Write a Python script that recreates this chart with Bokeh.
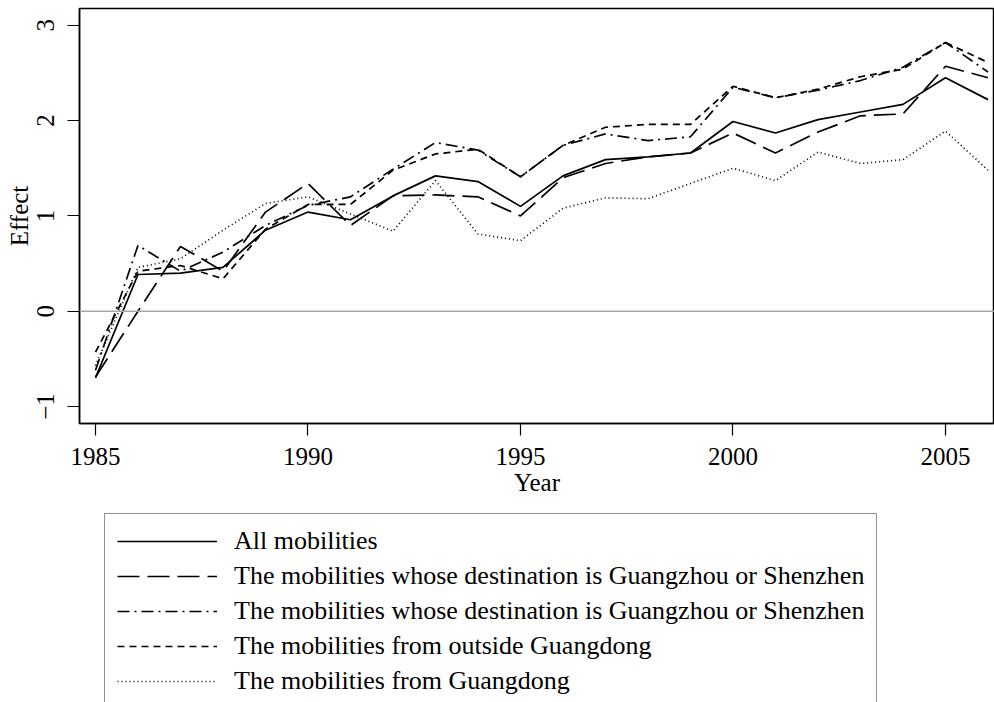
from bokeh.plotting import figure
from bokeh.models import Legend, LegendItem, Span, FixedTicker, Range1d
from bokeh.layouts import column
from bokeh.embed import file_html
from bokeh.resources import INLINE

years = list(range(1985, 2007))
all_mob = [-0.70, 0.385, 0.40, 0.46, 0.85, 1.04, 0.96, 1.21, 1.42, 1.36, 1.10,
           1.42, 1.59, 1.62, 1.66, 1.99, 1.87, 2.01, 2.09, 2.17, 2.45, 2.22]
gz_sz_a = [-0.69, 0.00, 0.68, 0.42, 1.04, 1.34, 0.90, 1.21, 1.22, 1.20, 1.00,
           1.40, 1.55, 1.62, 1.66, 1.87, 1.66, 1.88, 2.05, 2.07, 2.57, 2.45]
gz_sz_b = [-0.62, 0.69, 0.42, 0.62, 0.90, 1.11, 1.20, 1.49, 1.77, 1.69, 1.41,
           1.74, 1.86, 1.79, 1.83, 2.35, 2.24, 2.32, 2.42, 2.56, 2.82, 2.51]
outside_gd = [-0.43, 0.42, 0.48, 0.34, 0.86, 1.12, 1.12, 1.48, 1.65, 1.70, 1.41,
              1.74, 1.93, 1.96, 1.96, 2.36, 2.24, 2.33, 2.46, 2.54, 2.82, 2.61]
from_gd = [-0.57, 0.46, 0.55, 0.85, 1.13, 1.20, 1.02, 0.84, 1.37, 0.81, 0.74,
           1.08, 1.19, 1.18, 1.34, 1.50, 1.37, 1.67, 1.55, 1.59, 1.89, 1.48]

labels = ["All mobilities",
          "The mobilities whose destination is Guangzhou or Shenzhen",
          "The mobilities whose destination is Guangzhou or Shenzhen",
          "The mobilities from outside Guangdong",
          "The mobilities from Guangdong"]
x_ticks = [1985, 1990, 1995, 2000, 2005]
y_ticks = [-1, 0, 1, 2, 3]

FONT = "Liberation Serif"
FS = "25px"
LFS = "26px"

series = [all_mob, gz_sz_a, gz_sz_b, outside_gd, from_gd]
dashes = ["solid", "22 8", "12 5 2 5", "7 5", "1 3"]

# ---- main plot ----
p = figure(width=994, height=513, output_backend="svg", toolbar_location=None,
           x_range=Range1d(1984.624, 2006.153), y_range=Range1d(-1.178, 3.176),
           min_border_left=79, min_border_right=0, min_border_top=8,
           min_border_bottom=90, background_fill_color="white",
           border_fill_color="white")
p.grid.visible = False
p.outline_line_color = "black"
p.outline_line_width = 1.5

p.add_layout(Span(location=0, dimension="width", line_color="#a8a8a8", line_width=1.5))

for s, d in zip(series, dashes):
    p.line(years, s, line_color="black", line_width=1.7, line_dash=d)

for ax in (p.xaxis, p.yaxis):
    ax.axis_line_color = "black"
    ax.axis_line_width = 1.5
    ax.major_tick_line_color = "black"
    ax.major_tick_line_width = 1.2
    ax.major_tick_out = 12
    ax.major_tick_in = 0
    ax.minor_tick_out = 0
    ax.minor_tick_in = 0
    ax.major_label_text_font = FONT
    ax.major_label_text_font_size = FS
    ax.major_label_text_color = "black"
    ax.axis_label_text_font = FONT
    ax.axis_label_text_font_size = FS
    ax.axis_label_text_font_style = "normal"
    ax.axis_label_text_color = "black"

p.xaxis.ticker = FixedTicker(ticks=x_ticks)
p.yaxis.ticker = FixedTicker(ticks=y_ticks)
p.xaxis.axis_label = "Year"
p.yaxis.axis_label = "Effect"
p.xaxis.major_label_standoff = 12
p.xaxis.axis_label_standoff = 1
p.yaxis.major_label_orientation = "vertical"
p.yaxis.major_label_standoff = 13
p.yaxis.axis_label_standoff = 2

# ---- legend panel (series drawn off-view; only the legend shows) ----
q = figure(width=994, height=189, output_backend="svg", toolbar_location=None,
           x_range=Range1d(0, 1), y_range=Range1d(0, 1),
           x_axis_type=None, y_axis_type=None,
           min_border_left=79, min_border_right=0, min_border_top=0,
           min_border_bottom=0, background_fill_color="white",
           border_fill_color="white")
q.grid.visible = False
q.outline_line_color = None
legend_renderers = [q.line(years, s, line_color="black", line_width=1.7, line_dash=d)
                    for s, d in zip(series, dashes)]

legend = Legend(items=[LegendItem(label=l, renderers=[r])
                       for l, r in zip(labels, legend_renderers)],
                location=(25, -7), margin=0, padding=12, spacing=5,
                glyph_width=100, glyph_height=30, label_height=30, label_standoff=17,
                label_text_font=FONT, label_text_font_size=LFS, label_text_color="black",
                border_line_color="#222222", border_line_width=1.5,
                background_fill_color="white", background_fill_alpha=1.0)
q.add_layout(legend, "center")

layout = column(p, q, spacing=0)
open("out.html", "w").write(file_html(layout, INLINE))
